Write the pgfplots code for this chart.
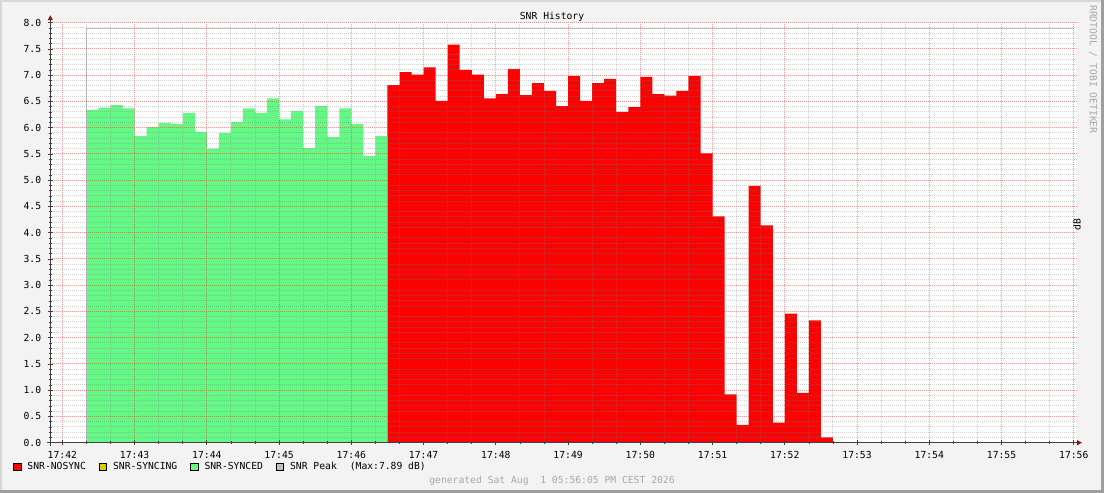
\documentclass[border=0pt]{standalone}
\usepackage{pgfplots}
\pgfplotsset{compat=1.18}
\usepackage{pgfplotstable}
\usepackage{fontspec}
\setmainfont{DejaVu Sans Mono}
\usetikzlibrary{arrows.meta}

\definecolor{canvas}{HTML}{F3F3F3}
\definecolor{shadea}{HTML}{D8D8D8}
\definecolor{shadeb}{HTML}{9E9E9E}
\definecolor{snrred}{HTML}{FF0000}
\definecolor{snryellow}{HTML}{DDCC00}
\definecolor{snrgreen}{HTML}{62FA84}
\definecolor{peakgray}{HTML}{C0C0C0}
\definecolor{axiscol}{HTML}{404040}
\definecolor{arrowcol}{HTML}{801818}
\definecolor{gridcol}{HTML}{808080}
\definecolor{mgridcol}{HTML}{FF0000}
\definecolor{gentext}{HTML}{A8A8A8}

% time in seconds after 17:42:00, one step = 10 s
\pgfplotstableread{
t snr
20 6.34
30 6.38
40 6.43
50 6.37
60 5.84
70 6.01
80 6.09
90 6.07
100 6.28
110 5.92
120 5.60
130 5.90
140 6.11
150 6.37
160 6.28
170 6.56
180 6.16
190 6.32
200 5.61
210 6.41
220 5.82
230 6.37
240 6.07
250 5.46
260 5.84
270 5.84
}\synced

\pgfplotstableread{
t snr
270 6.81
280 7.06
290 7.01
300 7.15
310 6.51
320 7.58
330 7.10
340 7.01
350 6.56
360 6.64
370 7.12
380 6.62
390 6.85
400 6.70
410 6.41
420 6.98
430 6.51
440 6.85
450 6.93
460 6.30
470 6.39
480 6.97
490 6.64
500 6.61
510 6.70
520 6.98
530 5.51
540 4.31
550 0.92
560 0.34
570 4.89
580 4.14
590 0.38
600 2.46
610 0.95
620 2.33
630 0.10
640 0.10
}\nosync

\begin{document}%
\fontsize{9.7bp}{11.7bp}\selectfont%
\begin{tikzpicture}
\useasboundingbox (0,0) rectangle (1104bp,493bp);
\fill[canvas] (0,0) rectangle (1104bp,493bp);
\fill[shadea] (0,0) rectangle (2bp,493bp);
\fill[shadea] (0,491bp) rectangle (1104bp,493bp);
\fill[shadeb] (0,0) rectangle (1104bp,3bp);
\fill[shadeb] (1101bp,0) rectangle (1104bp,493bp);
\begin{axis}[
  at={(50.3bp,50.3bp)}, anchor=south west,
  scale only axis, width=1026.7bp, height=420bp,
  xmin=-10, xmax=842.6, ymin=0, ymax=8,
  axis lines=left,
  axis on top,
  axis background/.style={fill=white},
  axis line style={draw=axiscol, line width=1bp},
  x axis line style={-{Triangle[length=5bp,width=5bp,color=arrowcol]}, shorten >=-5bp, shorten <=-3bp},
  y axis line style={-{Triangle[length=5bp,width=5bp,color=arrowcol]}, shorten >=-7.5bp, shorten <=-3bp},
  xtick={0,60,...,840},
  xticklabels={17:42,17:43,17:44,17:45,17:46,17:47,17:48,17:49,17:50,17:51,17:52,17:53,17:54,17:55,17:56},
  minor x tick num=2,
  ytick={0,0.5,...,8},
  minor y tick num=4,
  grid=both,
  major grid style={draw=mgridcol, draw opacity=0.4, line width=1bp, dash pattern=on 1bp off 1bp},
  minor grid style={draw=gridcol, draw opacity=0.35, line width=1bp, dash pattern=on 1bp off 1bp},
  tick align=center, major tick length=5bp, minor tick length=3bp,
  tick style={draw=axiscol, line width=0.8bp, solid},
  xticklabel style={inner sep=0pt, anchor=north},
  xticklabel shift=5.7bp,
  yticklabel style={inner sep=0pt, anchor=east,
    /pgf/number format/.cd, fixed, fixed zerofill, precision=1, assume math mode=true},
  yticklabel shift=6.5bp,
  title={SNR History},
  every axis title/.style={at={(axis description cs:0.4887,1)}, anchor=base, yshift=3.4bp, inner sep=0pt},
  ylabel={dB},
  every axis y label/.style={at={(axis description cs:1,0.5)}, rotate=90, anchor=center, xshift=8.5bp, inner sep=0pt},
  legend cell align=left,
  legend style={at={(axis description cs:0,0)}, anchor=west, xshift=-37bp, yshift=-24bp,
    draw=none, fill=none, inner sep=0pt, outer sep=0pt, legend columns=-1,
    nodes={inner sep=0pt},
    /tikz/every odd column/.style={column sep=6bp},
    /tikz/every even column/.style={column sep=13bp}},
]
\addplot[fill=snrred, draw=none, const plot,
  legend image code/.code={\draw[fill=snrred,draw=black,line width=0.8bp] (0bp,-3.6bp) rectangle (7.4bp,3.6bp);}]
  table[x=t, y=snr] {\nosync} \closedcycle;
\addlegendentry{SNR-NOSYNC}
\addlegendimage{legend image code/.code={\draw[fill=snryellow,draw=black,line width=0.8bp] (0bp,-3.6bp) rectangle (7.4bp,3.6bp);}}
\addlegendentry{SNR-SYNCING}
\addplot[fill=snrgreen, draw=none, const plot,
  legend image code/.code={\draw[fill=snrgreen,draw=black,line width=0.8bp] (0bp,-3.6bp) rectangle (7.4bp,3.6bp);}]
  table[x=t, y=snr] {\synced} \closedcycle;
\addlegendentry{SNR-SYNCED}
\addplot[draw=peakgray, line width=1bp,
  legend image code/.code={\draw[fill=peakgray,draw=black,line width=0.8bp] (0bp,-3.6bp) rectangle (7.4bp,3.6bp);}]
  coordinates {(20,0) (20,7.89) (840,7.89)};
\addlegendentry{SNR Peak\hspace{13bp}(Max:7.89 dB)}
\end{axis}
\node[text=gentext] at (552bp,12bp) {generated Sat Aug\ \ 1 05:56:05 PM CEST 2026};
\node[text=gentext, rotate=-90, anchor=west, inner sep=0pt] at (1093bp,488bp) {RRDTOOL / TOBI OETIKER};
\end{tikzpicture}%
\end{document}
